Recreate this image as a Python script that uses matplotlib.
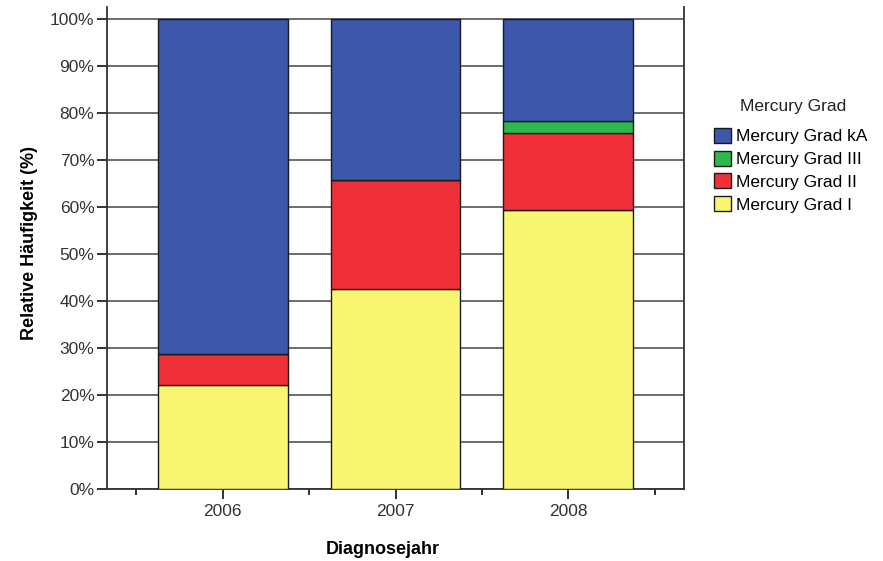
import numpy as np
import matplotlib.pyplot as plt
from matplotlib.ticker import FixedLocator

plt.rcParams['font.family'] = ['Liberation Sans', 'DejaVu Sans']

# Data (relative frequencies in percent)
years = ['2006', '2007', '2008']
grad_i = [22.2, 42.5, 59.4]
grad_ii = [6.5, 23.3, 16.2]
grad_iii = [0.0, 0.0, 2.7]
grad_ka = [71.3, 34.2, 21.7]

series = [('Mercury Grad I', grad_i, '#F9F671'),
          ('Mercury Grad II', grad_ii, '#EF3038'),
          ('Mercury Grad III', grad_iii, '#2DB84B'),
          ('Mercury Grad kA', grad_ka, '#3D58AA')]

W, H = 883, 561
fig = plt.figure(figsize=(W / 100, H / 100), dpi=100)
ax = fig.add_axes([107 / W, 1 - 489 / H, (684 - 107) / W, (489 - 7) / H])

x = np.arange(len(years))
bottom = np.zeros(len(years))
handles = {}
for name, vals, col in series:
    vals = np.array(vals)
    b = ax.bar(x, vals, width=0.75, bottom=bottom, color=col,
               edgecolor='#1a1a1a', linewidth=1.0, zorder=3, label=name)
    handles[name] = b
    bottom += vals

ax.set_xlim(-0.67, 2.67)
ax.set_ylim(0, 102.5)

# Grid
yt = np.arange(0, 101, 10)
for v in yt:
    ax.axhline(v, color='#444444', linewidth=1.1, zorder=1)

ax.set_yticks(yt)
ax.set_yticklabels([f'{v}%' for v in yt])
ax.set_xticks(x)
ax.set_xticklabels(years)
ax.xaxis.set_minor_locator(FixedLocator([-0.5, 0.5, 1.5, 2.5]))

ax.tick_params(axis='y', length=7, width=1.3, pad=2, labelsize=12.5,
               colors='#222222', labelcolor='#333333')
ax.tick_params(axis='x', which='major', length=7, width=1.3, pad=3.5,
               labelsize=12.5, colors='#222222', labelcolor='#333333')
ax.tick_params(axis='x', which='minor', length=4.5, width=1.3, colors='#222222')

ax.spines['top'].set_visible(False)
for s in ['left', 'right', 'bottom']:
    ax.spines[s].set_color('#333333')
    ax.spines[s].set_linewidth(1.3)

fig.text(383 / W, 1 - 549 / H, 'Diagnosejahr', ha='center', va='center',
         fontsize=13, fontweight='bold')
fig.text(30 / W, 1 - 243 / H, 'Relative Häufigkeit (%)', ha='center',
         va='center', rotation=90, fontsize=13, fontweight='bold')

# Legend (title drawn separately so it can sit centred above the entries)
fig.text(793 / W, 1 - 106 / H, 'Mercury Grad', ha='center', va='center',
         fontsize=12.5, color='#222222')
order = ['Mercury Grad kA', 'Mercury Grad III', 'Mercury Grad II', 'Mercury Grad I']
leg = fig.legend([handles[n] for n in order], order,
                 loc='upper left', bbox_to_anchor=(714 / W, 1 - 128 / H),
                 frameon=False, fontsize=12.5,
                 handlelength=1.0, handleheight=0.95, handletextpad=0.25,
                 labelspacing=0.36, borderpad=0, borderaxespad=0)

fig.savefig('out.png', dpi=100)
